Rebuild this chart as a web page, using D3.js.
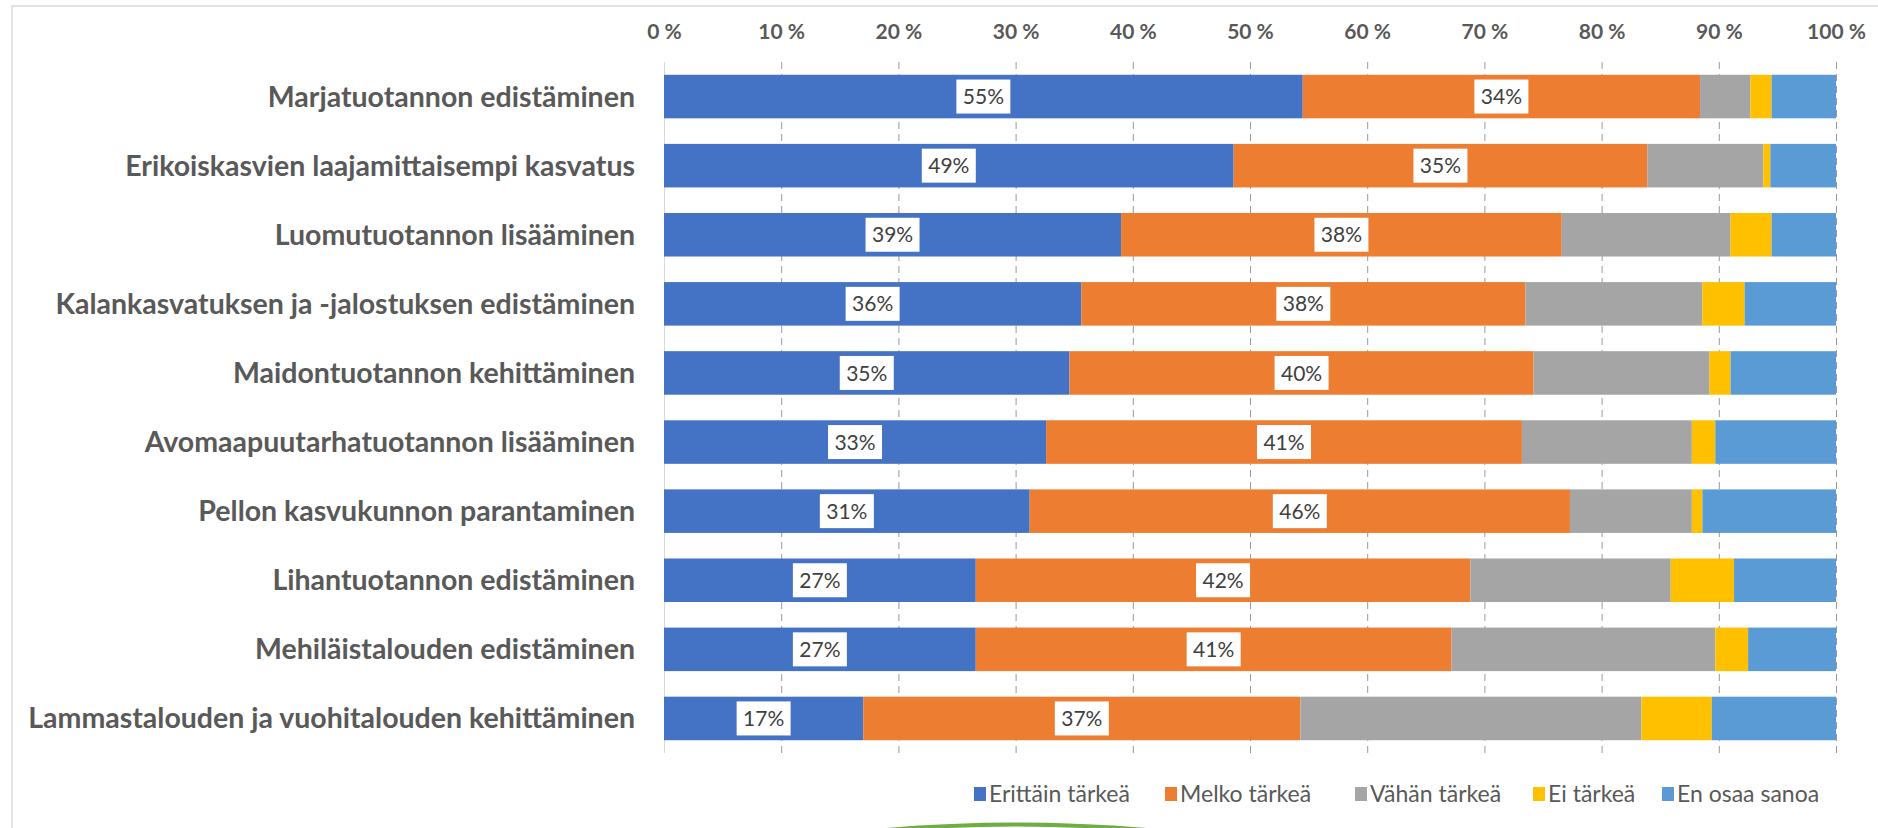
<!DOCTYPE html>
<html>
<head>
<meta charset="utf-8">
<script src="https://cdn.jsdelivr.net/npm/d3@7"></script>
<style>
  body { margin: 0; background: #fff; }
  svg { display: block; }
</style>
</head>
<body>
<svg width="1878" height="828"></svg>
<script>
// kysymys: kuinka tärkeänä pidät...
const categories = [
  "Marjatuotannon edistäminen",
  "Erikoiskasvien laajamittaisempi kasvatus",
  "Luomutuotannon lisääminen",
  "Kalankasvatuksen ja -jalostuksen edistäminen",
  "Maidontuotannon kehittäminen",
  "Avomaapuutarhatuotannon lisääminen",
  "Pellon kasvukunnon parantaminen",
  "Lihantuotannon edistäminen",
  "Mehiläistalouden edistäminen",
  "Lammastalouden ja vuohitalouden kehittäminen"
];
const seriesNames = ["Erittäin tärkeä", "Melko tärkeä", "Vähän tärkeä", "Ei tärkeä", "En osaa sanoa"];
const erittain = [54.5, 48.6, 39.0, 35.6, 34.6, 32.6, 31.2, 26.6, 26.6, 17.0];
const melko    = [33.9, 35.3, 37.6, 37.9, 39.6, 40.6, 46.1, 42.2, 40.6, 37.3];
const vahan    = [4.3, 9.9, 14.4, 15.1, 15.0, 14.5, 10.4, 17.1, 22.5, 29.1];
const eiTarkea = [1.8, 0.6, 3.5, 3.6, 1.8, 2.0, 0.9, 5.4, 2.8, 6.0];
const enOsaa   = [5.5, 5.6, 5.5, 7.8, 9.0, 10.3, 11.4, 8.7, 7.5, 10.6];
const tickValues = [0, 10, 20, 30, 40, 50, 60, 70, 80, 90, 100];
const colors = ["#4472C4", "#ED7D31", "#A5A5A5", "#FFC000", "#5B9BD5"];

const svg = d3.select("svg");
const font = "Lato, 'Noto Sans', sans-serif";

// kehys
svg.append("rect")
    .attr("x", 12).attr("y", 6)
    .attr("width", 1900).attr("height", 900)
    .attr("fill", "none")
    .attr("stroke", "#D9D9D9")
    .attr("stroke-width", 1.5);

const plotLeft = 664, plotRight = 1836, plotTop = 62, plotBottom = 753;

const x = d3.scaleLinear().domain([0, 100]).range([plotLeft, plotRight]);
const y = d3.scaleBand().domain(categories).range([plotTop, plotBottom])
    .paddingInner(0.37).paddingOuter(0.185);

const table = categories.map((c, i) => ({
  name: c,
  [seriesNames[0]]: erittain[i],
  [seriesNames[1]]: melko[i],
  [seriesNames[2]]: vahan[i],
  [seriesNames[3]]: eiTarkea[i],
  [seriesNames[4]]: enOsaa[i]
}));
const stacked = d3.stack().keys(seriesNames)(table);

// gridlines
const grid = svg.append("g")
    .attr("transform", "translate(0," + plotTop + ")")
    .call(d3.axisTop(x).tickValues(tickValues).tickSize(-(plotBottom - plotTop)).tickFormat(""));
grid.select(".domain").remove();
grid.selectAll(".tick line")
    .attr("stroke", d => d === 0 ? "#D9D9D9" : "#999")
    .attr("stroke-width", 1)
    .attr("stroke-dasharray", d => d === 0 ? null : "7,5");

// top axis labels
const axis = svg.append("g")
    .attr("transform", "translate(0,42)")
    .call(d3.axisTop(x).tickValues(tickValues).tickSize(0).tickFormat(d => d + " %"));
axis.select(".domain").remove();
axis.selectAll("text")
    .attr("font-family", font)
    .attr("font-size", 21)
    .attr("font-weight", "bold")
    .attr("fill", "#595959");

// bars
const layer = svg.append("g").selectAll("g")
  .data(stacked)
  .enter().append("g")
    .attr("fill", (d, i) => colors[i]);

layer.selectAll("rect")
  .data(d => d)
  .enter().append("rect")
    .attr("x", d => x(d[0]))
    .attr("y", d => y(d.data.name))
    .attr("width", d => x(d[1]) - x(d[0]))
    .attr("height", y.bandwidth());

// data labels on first two series
const labelData = [];
stacked.slice(0, 2).forEach(s => s.forEach(d => labelData.push({ d: d, v: d.data[s.key] })));

const lab = svg.append("g").selectAll("g")
  .data(labelData)
  .enter().append("g")
    .attr("transform", e => "translate(" + x((e.d[0] + e.d[1]) / 2) + "," + (y(e.d.data.name) + y.bandwidth() / 2) + ")");

lab.append("rect")
    .attr("x", -27).attr("y", -17)
    .attr("width", 54).attr("height", 34)
    .attr("fill", "#fff");

lab.append("text")
    .attr("text-anchor", "middle")
    .attr("dy", "0.36em")
    .attr("font-family", font)
    .attr("font-size", 21)
    .attr("fill", "#404040")
    .text(e => Math.round(e.v) + "%");

// category labels
svg.append("g").selectAll("text")
  .data(categories)
  .enter().append("text")
    .attr("x", 635)
    .attr("y", d => y(d) + y.bandwidth() / 2)
    .attr("dy", "0.35em")
    .attr("text-anchor", "end")
    .attr("font-family", font)
    .attr("font-size", 28.5)
    .attr("font-weight", "bold")
    .attr("fill", "#595959")
    .text(d => d);

// legend
const legendX = [974, 1165, 1355, 1533, 1662];
const legend = svg.append("g").selectAll("g")
  .data(seriesNames)
  .enter().append("g")
    .attr("transform", (d, i) => "translate(" + legendX[i] + ",794)");
legend.append("rect")
    .attr("x", 0).attr("y", -7)
    .attr("width", 12).attr("height", 14)
    .attr("fill", (d, i) => colors[i]);
legend.append("text")
    .attr("x", 15)
    .attr("dy", "0.35em")
    .attr("font-family", font)
    .attr("font-size", 23)
    .attr("fill", "#595959")
    .text(d => d);

// vihreä kaari alareunassa
svg.append("path")
    .attr("d", "M875,831 Q1015,818 1158,831")
    .attr("fill", "none")
    .attr("stroke", "#70AD47")
    .attr("stroke-width", 4);
</script>
</body>
</html>
